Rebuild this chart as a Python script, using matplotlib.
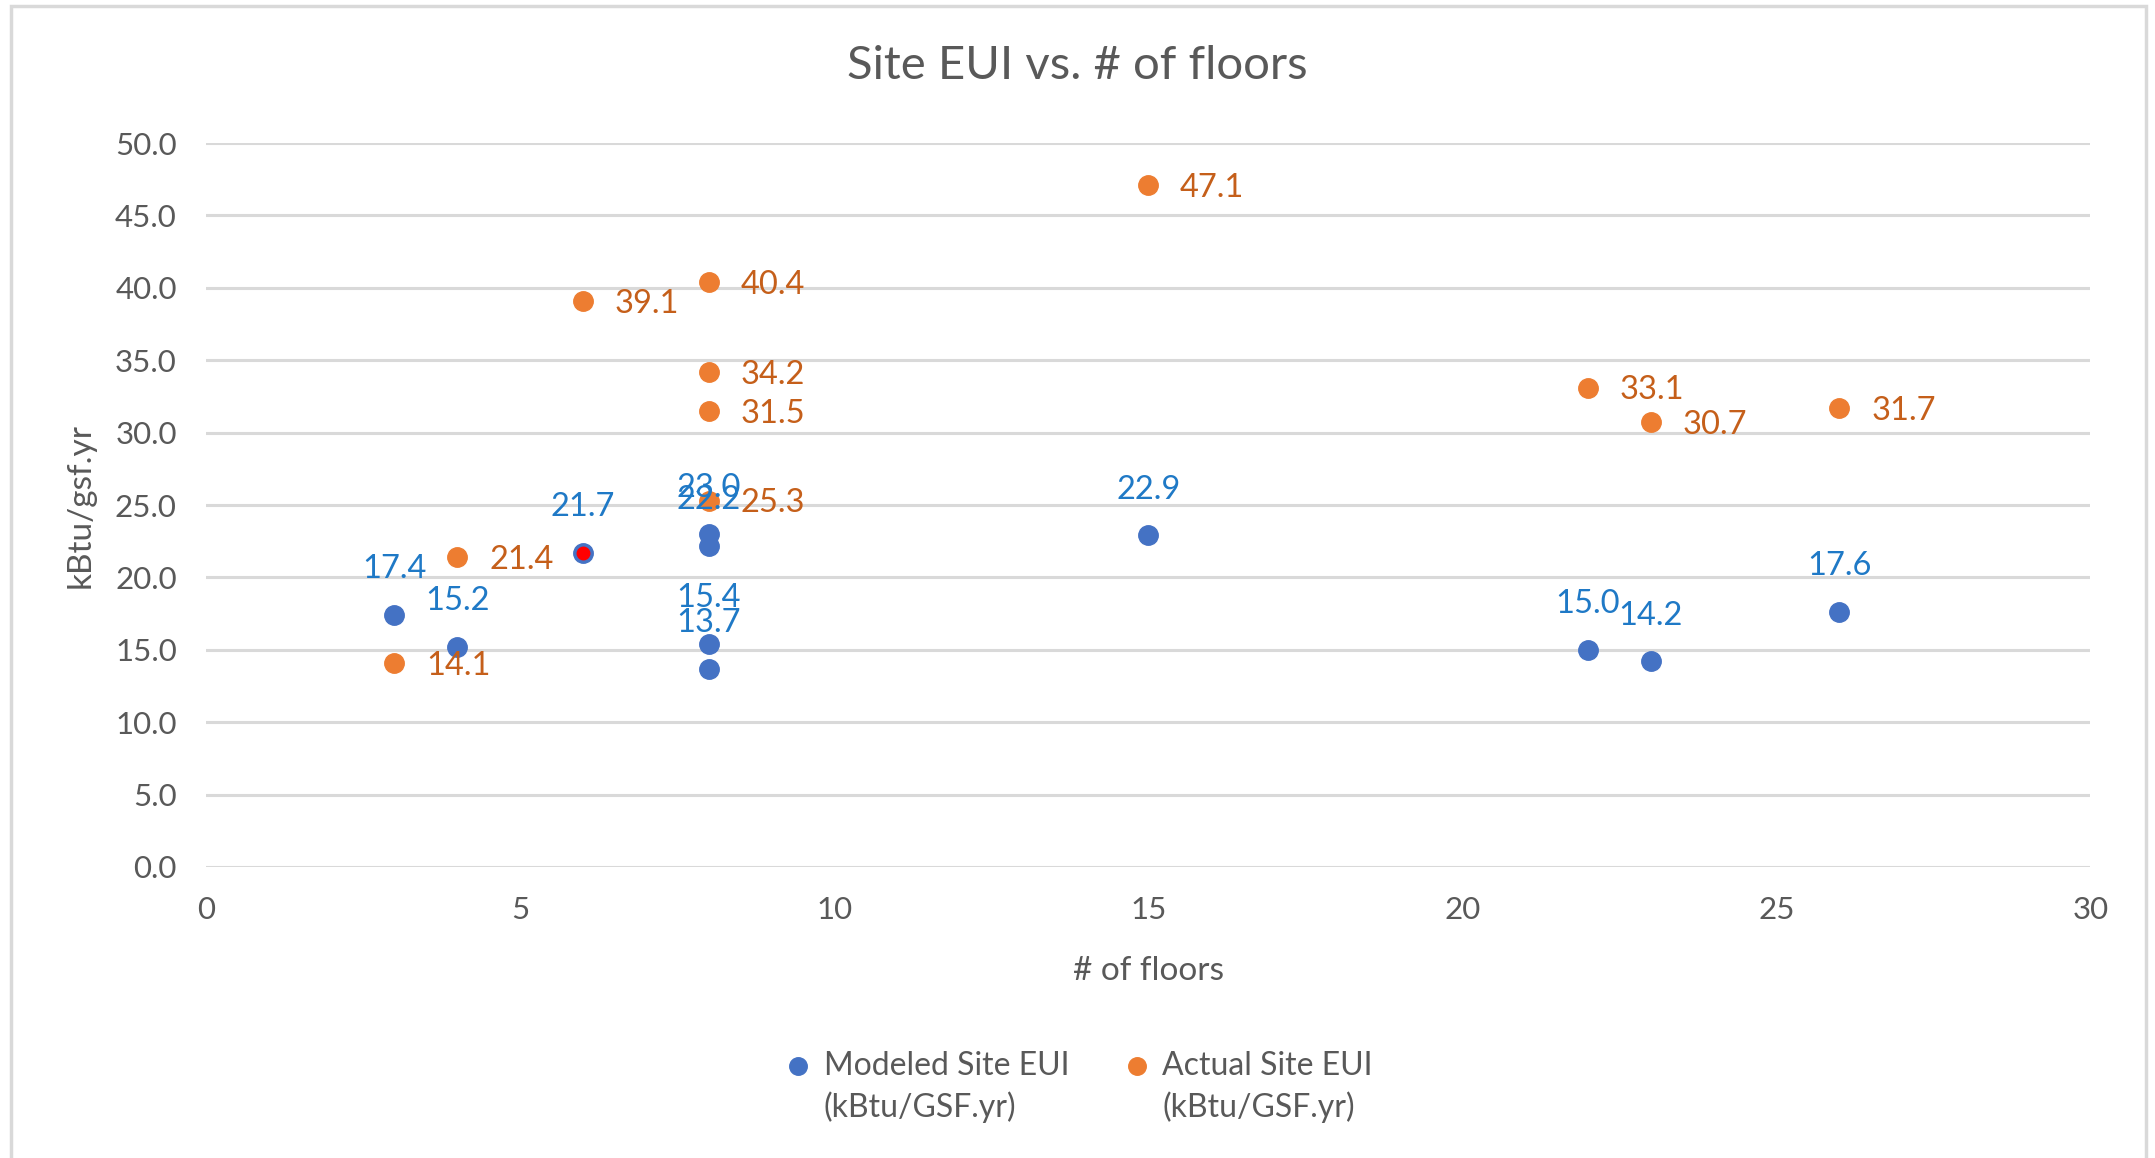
import matplotlib.pyplot as plt
from matplotlib.patches import Rectangle
from matplotlib.legend_handler import HandlerLine2D

plt.rcParams['font.family'] = ['Lato', 'DejaVu Sans']

floors = [3, 4, 6, 8, 8, 8, 8, 15, 22, 23, 26]
modeled_eui = [17.4, 15.2, 21.7, 23.0, 22.2, 15.4, 13.7, 22.9, 15.0, 14.2, 17.6]
actual_eui = [14.1, 21.4, 39.1, 40.4, 34.2, 31.5, 25.3, 47.1, 33.1, 30.7, 31.7]
highlight_idx = 2

series_labels = ["Modeled Site EUI\n(kBtu/GSF.yr)", "Actual Site EUI\n(kBtu/GSF.yr)"]
y_ticks = [0, 5, 10, 15, 20, 25, 30, 35, 40, 45, 50]
x_ticks = [0, 5, 10, 15, 20, 25, 30]

blue = "#4472C4"
orange = "#ED7D31"
blue_txt = "#1F79C6"
orange_txt = "#C55F1A"
gray_txt = "#595959"
grid_col = "#D9D9D9"


# legend marker sits level with the first line of a two-line label
class FirstLineHandler(HandlerLine2D):
    def create_artists(self, legend, orig_handle, xdescent, ydescent,
                       width, height, fontsize, trans):
        arts = super().create_artists(legend, orig_handle, xdescent, ydescent,
                                      width, height, fontsize, trans)
        for a in arts:
            a.set_ydata([y + 0.7 * fontsize for y in a.get_ydata()])
        return arts


fig = plt.figure(figsize=(21.55, 11.58), dpi=100)
ax = fig.add_axes([0.0956, 0.2513, 0.8744, 0.6252])

h1, = ax.plot(floors, modeled_eui, 'o', color=blue, ms=14, label=series_labels[0], zorder=3)
h2, = ax.plot(floors, actual_eui, 'o', color=orange, ms=14, label=series_labels[1], zorder=3)
ax.plot(floors[highlight_idx], modeled_eui[highlight_idx], 'o', color='red', ms=9, zorder=4)

for x, y in zip(floors, modeled_eui):
    ax.annotate(f"{y:.1f}", (x, y), textcoords='offset points', xytext=(0, 33),
                ha='center', va='center', fontsize=23.5, color=blue_txt, zorder=5)
for x, y in zip(floors, actual_eui):
    ax.annotate(f"{y:.1f}", (x, y), textcoords='offset points', xytext=(23, -2),
                ha='left', va='center', fontsize=23.5, color=orange_txt, zorder=5)

ax.set_xlim(0, 30)
ax.set_ylim(0, 50)
ax.set_xticks(x_ticks)
ax.set_yticks(y_ticks)
ax.set_yticklabels([f"{v:.1f}" for v in y_ticks])
ax.tick_params(length=0, labelsize=22.5, labelcolor=gray_txt, pad=21)
ax.grid(axis='y', color=grid_col, lw=2.2)
ax.set_axisbelow(True)
for s in ax.spines.values():
    s.set_visible(False)

fig.suptitle("Site EUI vs. # of floors", fontsize=34, color=gray_txt, x=0.5, y=0.943, va='center')
ax.set_xlabel("# of floors", fontsize=24, color=gray_txt, labelpad=23)
ax.set_ylabel("kBtu/gsf.yr", fontsize=24, color=gray_txt, labelpad=14)

leg = fig.legend(handles=[h1, h2], loc='center', bbox_to_anchor=(0.500, 0.061), ncol=2,
                 frameon=False, fontsize=23, labelcolor=gray_txt, handletextpad=0.3,
                 columnspacing=1.6, handlelength=1.0, markerscale=0.9,
                 handler_map={h1: FirstLineHandler(), h2: FirstLineHandler()})
for t in leg.get_texts():
    t.set_linespacing(1.4)

fig.patches.append(Rectangle((0.005, -0.01), 0.991, 1.005, transform=fig.transFigure,
                             fill=False, edgecolor='#D9D9D9', lw=2.5))

fig.savefig("out.png", dpi=100)
